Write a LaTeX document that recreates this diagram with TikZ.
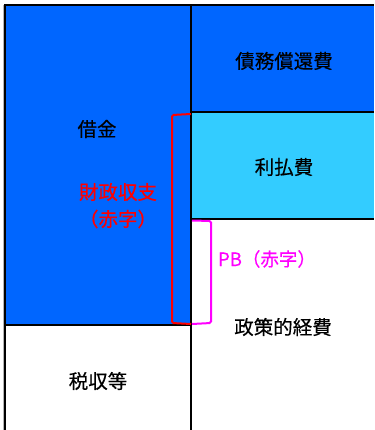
\documentclass[tikz,border=0pt]{standalone}
\usepackage{fontspec}
\setmainfont{Noto Sans CJK JP}[FakeBold=0.4]
\definecolor{debtblue}{RGB}{0,102,255}
\definecolor{intcyan}{RGB}{51,204,255}
\definecolor{pbmag}{RGB}{255,0,255}
\definecolor{edgegray}{RGB}{180,180,180}
\tikzset{
  lbl/.style={inner sep=0pt, font=\fontsize{19.5}{22}\selectfont, text=black},
  redlbl/.style={lbl, text=red},
  pblbl/.style={inner sep=0pt, font=\fontsize{18.5}{21}\selectfont, text=pbmag},
  frame/.style={draw=black, line width=2pt},
  brace/.style={line width=2pt, rounded corners=1.5pt}
}
\begin{document}
\begin{tikzpicture}[x=1pt,y=-1pt]
\useasboundingbox (0,0) rectangle (374,430);
\fill[white] (0,0) rectangle (374,430);
% fills
\fill[debtblue] (5,5) rectangle (191,325);
\fill[debtblue] (191,5) rectangle (374,112);
\fill[intcyan] (191,112) rectangle (374,219);
% frame lines
\draw[edgegray, line width=1pt] (3.2,5) -- (3.2,430);
\draw[frame] (5,430) -- (5,5) -- (374,5);
\draw[frame] (191,5) -- (191,430);
\draw[frame] (191,112) -- (374,112);
\draw[frame] (191,219) -- (374,219);
\draw[frame] (5,325) -- (191,325);
% labels
\node[lbl] (shakkin) at (97,129) {借金};
\node[redlbl] (zaisei) at (118,192) {財政収支};
\node[redlbl] (akaji1) at (118,219) {（赤字）};
\node[lbl] (saimu) at (284,61) {債務償還費};
\node[lbl] (riharai) at (284,167) {利払費};
\node[pblbl] (pb) at (267,259) {PB（赤字）};
\node[lbl] (seisaku) at (283,327) {政策的経費};
\node[lbl] (zeishu) at (98,381) {税収等};
% brackets
\coordinate (rt) at (191,114);
\coordinate (rb) at (191,324);
\draw[brace, red] (rt) -- (172,115) -- (172,323) -- (rb);
\coordinate (mt) at (192,220.5);
\coordinate (mb) at (192,324);
\draw[brace, pbmag] (mt) -- (211,221) -- (211,323) -- (mb);
\end{tikzpicture}
\end{document}
